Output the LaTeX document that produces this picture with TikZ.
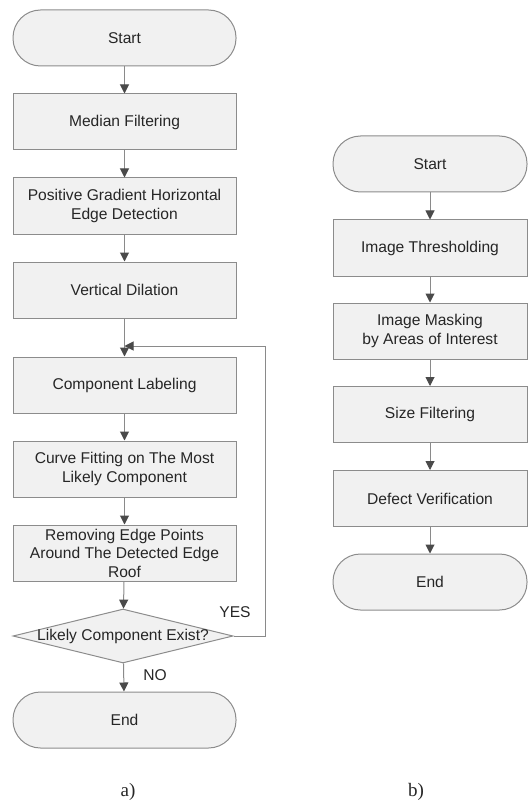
\documentclass[tikz,border=0pt]{standalone}
\usepackage{fontspec}
\setmainfont{Liberation Serif}
\newfontfamily\boxfont{Liberation Sans}
\usetikzlibrary{arrows.meta,shapes.geometric}
\definecolor{boxfill}{HTML}{F1F1F1}
\definecolor{boxline}{HTML}{8C8C8C}
\definecolor{flowline}{HTML}{8A8A8A}
\definecolor{tipcol}{HTML}{4A4A4A}
\definecolor{txt}{HTML}{262626}
\begin{document}
\begin{tikzpicture}[x=1pt,y=-1pt,
  every node/.style={font=\boxfont\fontsize{15.6}{18.5}\selectfont, text=txt},
  stepbox/.style={draw=boxline, fill=boxfill, line width=1pt, minimum height=56pt, inner sep=0pt, align=center},
  leftw/.style={minimum width=223pt},
  rightw/.style={minimum width=194pt},
  terminal/.style={stepbox, rounded corners=27.5pt},
  decision/.style={diamond, draw=boxline, fill=boxfill, line width=1pt, minimum width=220pt, minimum height=54pt, inner sep=0pt},
  arr/.style={draw=flowline, line width=1pt, -{Triangle[length=9pt,width=9pt,color=tipcol]}},
  caption/.style={font=\fontsize{19}{22}\selectfont, text=txt}
]
\useasboundingbox (0,0) rectangle (527,802);

% left flow
\node[terminal,leftw] (ls) at (124.5,38) {Start};
\node[stepbox,leftw] (mf) at (124.5,122) {Median Filtering};
\node[stepbox,leftw] (pg) at (124.5,206) {Positive Gradient Horizontal\\Edge Detection};
\node[stepbox,leftw] (vd) at (124.5,290) {Vertical Dilation};
\node[stepbox,leftw] (cl) at (124.5,385) {Component Labeling};
\node[stepbox,leftw] (cf) at (124.5,469) {Curve Fitting on The Most\\Likely Component};
\node[stepbox,leftw] (re) at (124.5,553) {Removing Edge Points\\Around The Detected Edge\\Roof};
\node[decision] (dec) at (123,636) {};
\node (dect) at (dec) {Likely Component Exist?};
\node[terminal,leftw] (le) at (124.5,720) {End};
\node (yes) at (235,612) {YES};
\node (no) at (155,675) {NO};
\coordinate (join) at (124.5,346);

\draw[arr] (ls) -- (mf);
\draw[arr] (mf) -- (pg);
\draw[arr] (pg) -- (vd);
\draw[arr] (vd) -- (cl);
\draw[arr] (cl) -- (cf);
\draw[arr] (cf) -- (re);
\draw[arr] (re) -- (dec);
\draw[arr] (dec) -- (le);
\draw[arr] (dec.east) -- ++(32,0) |- (join);

% right flow
\node[terminal,rightw] (rs) at (430,164) {Start};
\node[stepbox,rightw] (th) at (430,248) {Image Thresholding};
\node[stepbox,rightw] (ma) at (430,331) {Image Masking\\by Areas of Interest};
\node[stepbox,rightw] (sf) at (430,414.5) {Size Filtering};
\node[stepbox,rightw] (dv) at (430,498.5) {Defect Verification};
\node[terminal,rightw] (re2) at (430,582) {End};

\draw[arr] (rs) -- (th);
\draw[arr] (th) -- (ma);
\draw[arr] (ma) -- (sf);
\draw[arr] (sf) -- (dv);
\draw[arr] (dv) -- (re2);

% captions
\node[caption] (capa) at (128,792) {a)};
\node[caption] (capb) at (416,792) {b)};
\end{tikzpicture}
\end{document}
